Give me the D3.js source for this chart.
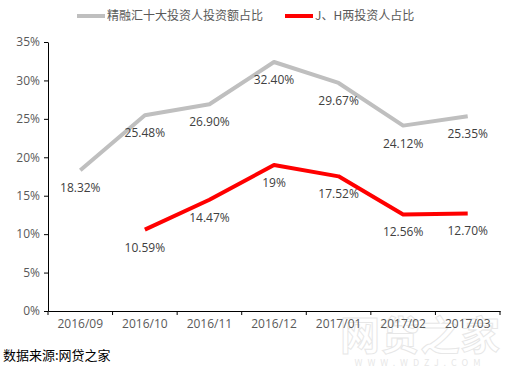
<!DOCTYPE html>
<html>
<head>
<meta charset="utf-8">
<script src="https://d3js.org/d3.v7.min.js"></script>
<style>
	body { margin: 0; background: #fff; }
	text { font-family: "Noto Sans CJK SC", "Microsoft YaHei", sans-serif; }
</style>
</head>
<body>
<svg id="chart" width="515" height="376"></svg>
<script>
//=================== DATA ====================================
var months = ["2016/09", "2016/10", "2016/11", "2016/12", "2017/01", "2017/02", "2017/03"];
var topTenShare = [18.32, 25.48, 26.90, 32.40, 29.67, 24.12, 25.35];
var topTenLabels = ["18.32%", "25.48%", "26.90%", "32.40%", "29.67%", "24.12%", "25.35%"];
var jhShare = [null, 10.59, 14.47, 19, 17.52, 12.56, 12.70];
var jhLabels = ["", "10.59%", "14.47%", "19%", "17.52%", "12.56%", "12.70%"];
var yTicks = [0, 5, 10, 15, 20, 25, 30, 35];
var seriesNames = ["精融汇十大投资人投资额占比", "J、H两投资人占比"];

//=================== SETUP ====================================
var svg = d3.select("#chart");
var plotLeft = 48, plotRight = 500, plotTop = 42, plotBottom = 311;

var xScale = d3.scaleBand()
	.domain(months)
	.range([plotLeft, plotRight]);

var yScale = d3.scaleLinear()
	.domain([0, 35])
	.range([plotBottom, plotTop]);

var labelColour = "#595959";

// watermark (faint, behind everything)
var wm = svg.append("g").attr("opacity", 0.35);
wm.append("text")
	.attr("x", 420).attr("y", 350)
	.attr("text-anchor", "middle")
	.style("font-size", "40px")
	.style("font-weight", "bold")
	.attr("fill", "#fff")
	.attr("stroke", "#bbb")
	.attr("stroke-width", 1)
	.text("网贷之家");
wm.append("text")
	.attr("x", 420).attr("y", 366)
	.attr("text-anchor", "middle")
	.style("font-size", "9px")
	.style("letter-spacing", "5px")
	.attr("fill", "#bbb")
	.text("WWW.WDZJ.COM");

//=================== AXES ====================================
var yAxis = d3.axisLeft(yScale)
	.tickValues(yTicks)
	.tickSize(4)
	.tickSizeOuter(0)
	.tickFormat(function (d) { return d + "%" });

var yg = svg.append("g")
	.attr("transform", "translate(" + plotLeft + ",0)")
	.call(yAxis);
yg.select(".domain").attr("stroke", "#000");
yg.selectAll(".tick line").attr("stroke", "#000");
yg.selectAll(".tick text")
	.attr("fill", labelColour)
	.attr("x", -8)
	.style("font-size", "12px")
	.style("font-family", "\"Open Sans\", sans-serif");

var xAxis = d3.axisBottom(xScale).tickSize(0).tickSizeOuter(0);
var xg = svg.append("g")
	.attr("transform", "translate(0," + plotBottom + ")")
	.call(xAxis);
xg.select(".domain").attr("stroke", "#000");
xg.selectAll(".tick text")
	.attr("fill", labelColour)
	.attr("dy", "1.2em")
	.style("font-size", "12px")
	.style("font-family", "\"Open Sans\", sans-serif");

// tick marks at band boundaries
xg.selectAll("line.sep")
	.data(months.concat(["end"]))
	.enter()
	.append("line")
	.classed("sep", true)
	.attr("x1", function (d, i) { return plotLeft + i * xScale.step() })
	.attr("x2", function (d, i) { return plotLeft + i * xScale.step() })
	.attr("y1", 0)
	.attr("y2", 4)
	.attr("stroke", "#000");

//=================== LINES ====================================
function xMid(i) { return xScale(months[i]) + xScale.bandwidth() / 2 }

function drawSeries(values, labels, colour) {
	var pts = values.map(function (v, i) { return { v: v, i: i, label: labels[i] } });

	var line = d3.line()
		.defined(function (d) { return d.v !== null })
		.x(function (d) { return xMid(d.i) })
		.y(function (d) { return yScale(d.v) });

	svg.append("path")
		.datum(pts)
		.attr("d", line)
		.attr("fill", "none")
		.attr("stroke", colour)
		.attr("stroke-width", 4)
		.attr("stroke-linejoin", "round");

	svg.append("g")
		.selectAll("text")
		.data(pts.filter(function (d) { return d.v !== null }))
		.enter()
		.append("text")
		.attr("x", function (d) { return xMid(d.i) })
		.attr("y", function (d) { return yScale(d.v) + 22 })
		.attr("text-anchor", "middle")
		.attr("fill", "#404040")
		.style("font-size", "12px")
		.style("font-family", "\"Open Sans\", sans-serif")
		.text(function (d) { return d.label });
}

drawSeries(topTenShare, topTenLabels, "#BFBFBF");
drawSeries(jhShare, jhLabels, "#FF0000");

//=================== LEGEND ====================================
var legendItems = [
	{ name: seriesNames[0], colour: "#BFBFBF", x: 77 },
	{ name: seriesNames[1], colour: "#FF0000", x: 285 }
];
var lg = svg.append("g").selectAll("g")
	.data(legendItems)
	.enter()
	.append("g")
	.attr("transform", function (d) { return "translate(" + d.x + ",16)" });
lg.append("line")
	.attr("x1", 0).attr("x2", 28)
	.attr("stroke", function (d) { return d.colour })
	.attr("stroke-width", 4);
lg.append("text")
	.attr("x", 30)
	.attr("dy", "0.35em")
	.attr("fill", labelColour)
	.style("font-size", "12px")
	.text(function (d) { return d.name });

// source note
svg.append("text")
	.attr("x", 3).attr("y", 360)
	.attr("fill", "#000")
	.style("font-size", "13px")
	.text("数据来源:网贷之家");
</script>
</body>
</html>
